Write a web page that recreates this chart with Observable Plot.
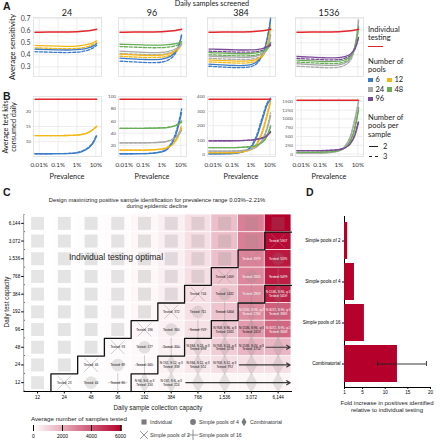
<!DOCTYPE html>
<html>
<head>
<meta charset="utf-8">
<script src="https://cdn.jsdelivr.net/npm/d3@7"></script>
<script src="https://cdn.jsdelivr.net/npm/@observablehq/plot@0.6"></script>
<style>
  html, body { margin: 0; padding: 0; background: #fff; }
  #fig { position: relative; width: 440px; height: 440px; overflow: hidden; background: #fff; }
  #fig svg text { font-weight: normal; }
  .t { position: absolute; white-space: nowrap; }
</style>
</head>
<body>
<div id="fig"></div>
<script>
// ================= DATA =================
// Panels A/B
const prevalence = [0.00006, 0.0001, 0.001, 0.003, 0.01, 0.02, 0.04, 0.07, 0.11];
const prevalenceTicks = [0.0001, 0.001, 0.01, 0.1];
const prevalenceTickLabels = ["0.01%", "0.1%", "1%", "10%"];
const samplesScreened = [24, 96, 384, 1536];
const poolCounts = [6, 12, 24, 48, 96];
const poolsPerSample = [2, 3];
const sensitivityTicks = [0.3, 0.4, 0.5, 0.6, 0.7];

const individualSensitivity = [0.587, 0.588, 0.589, 0.590, 0.592, 0.595, 0.600, 0.606, 0.612];
// [number of pools, pools per sample, values]
const sensitivity24 = [
  [6, 2, [0.447, 0.446, 0.441, 0.440, 0.443, 0.448, 0.458, 0.472, 0.492]],
  [6, 3, [0.426, 0.425, 0.420, 0.419, 0.422, 0.428, 0.440, 0.456, 0.480]],
  [12, 2, [0.478, 0.477, 0.472, 0.471, 0.473, 0.478, 0.488, 0.500, 0.517]],
  [12, 3, [0.458, 0.457, 0.452, 0.451, 0.454, 0.459, 0.470, 0.485, 0.505]]
];
const sensitivity96 = [
  [6, 2, [0.372, 0.370, 0.362, 0.360, 0.364, 0.376, 0.405, 0.460, 0.560]],
  [6, 3, [0.348, 0.346, 0.337, 0.335, 0.340, 0.354, 0.388, 0.450, 0.570]],
  [12, 2, [0.405, 0.403, 0.396, 0.394, 0.397, 0.405, 0.423, 0.450, 0.490]],
  [12, 3, [0.388, 0.386, 0.379, 0.377, 0.381, 0.390, 0.410, 0.442, 0.485]],
  [24, 2, [0.430, 0.428, 0.421, 0.419, 0.421, 0.427, 0.440, 0.460, 0.490]],
  [24, 3, [0.412, 0.410, 0.403, 0.401, 0.404, 0.411, 0.426, 0.450, 0.485]],
  [48, 2, [0.488, 0.487, 0.482, 0.480, 0.481, 0.484, 0.490, 0.498, 0.510]],
  [48, 3, [0.468, 0.467, 0.461, 0.459, 0.460, 0.464, 0.471, 0.482, 0.498]]
];
const sensitivity384 = [
  [6, 2, [0.322, 0.320, 0.312, 0.311, 0.318, 0.340, 0.400, 0.520, 0.690]],
  [6, 3, [0.305, 0.303, 0.295, 0.294, 0.302, 0.326, 0.392, 0.525, 0.705]],
  [12, 2, [0.358, 0.356, 0.349, 0.347, 0.351, 0.362, 0.392, 0.470, 0.620]],
  [12, 3, [0.342, 0.340, 0.333, 0.331, 0.336, 0.349, 0.383, 0.470, 0.640]],
  [24, 2, [0.390, 0.388, 0.381, 0.379, 0.382, 0.390, 0.408, 0.450, 0.560]],
  [24, 3, [0.372, 0.370, 0.363, 0.361, 0.364, 0.373, 0.394, 0.445, 0.570]],
  [48, 2, [0.418, 0.417, 0.411, 0.409, 0.411, 0.416, 0.428, 0.452, 0.505]],
  [48, 3, [0.400, 0.399, 0.393, 0.391, 0.393, 0.399, 0.413, 0.442, 0.500]],
  [96, 2, [0.448, 0.447, 0.442, 0.440, 0.441, 0.444, 0.452, 0.466, 0.490]],
  [96, 3, [0.430, 0.429, 0.424, 0.422, 0.423, 0.427, 0.436, 0.452, 0.480]]
];
const sensitivity1536 = [
  [24, 2, [0.326, 0.324, 0.315, 0.312, 0.317, 0.330, 0.365, 0.470, 0.680]],
  [24, 3, [0.306, 0.304, 0.295, 0.292, 0.298, 0.313, 0.352, 0.468, 0.700]],
  [48, 2, [0.356, 0.354, 0.346, 0.343, 0.347, 0.357, 0.384, 0.465, 0.630]],
  [48, 3, [0.340, 0.338, 0.330, 0.327, 0.331, 0.342, 0.372, 0.458, 0.640]],
  [96, 2, [0.386, 0.384, 0.377, 0.374, 0.377, 0.385, 0.405, 0.452, 0.545]],
  [96, 3, [0.370, 0.368, 0.361, 0.358, 0.361, 0.370, 0.392, 0.445, 0.550]]
];

const tests24 = [
  [6, 2, [6, 6, 6.02, 6.07, 6.3, 6.8, 7.8, 9.4, 11.8]],
  [6, 3, [6, 6, 6.03, 6.1, 6.4, 7.0, 8.1, 9.8, 12.2]],
  [12, 2, [12, 12, 12.01, 12.03, 12.15, 12.4, 13.0, 13.9, 15.0]],
  [12, 3, [12, 12, 12.01, 12.04, 12.2, 12.5, 13.1, 14.0, 15.1]]
];
const tests96 = [
  [6, 2, [6, 6, 6.2, 6.8, 9, 14, 27, 48, 74]],
  [6, 3, [6, 6, 6.3, 7, 10, 16, 30, 53, 80]],
  [12, 2, [12, 12, 12.1, 12.4, 13.5, 16, 22, 33, 48]],
  [12, 3, [12, 12, 12.1, 12.5, 14, 17, 24, 36, 53]],
  [24, 2, [24, 24, 24.1, 24.3, 25, 26.5, 30, 36, 44]],
  [24, 3, [24, 24, 24.1, 24.4, 25.3, 27, 31, 38, 47]],
  [48, 2, [48, 48, 48.05, 48.2, 48.6, 49.3, 51, 54, 58]],
  [48, 3, [48, 48, 48.06, 48.3, 48.8, 49.6, 51.5, 55, 60]]
];
const tests384 = [
  [6, 2, [6, 6, 7.5, 15, 50, 120, 240, 340, 385]],
  [6, 3, [6, 6, 8, 17, 57, 135, 260, 355, 392]],
  [12, 2, [12, 12, 13, 17, 35, 70, 150, 260, 365]],
  [12, 3, [12, 12, 13.3, 18, 39, 78, 165, 280, 380]],
  [24, 2, [24, 24, 24.8, 27, 36, 53, 95, 170, 270]],
  [24, 3, [24, 24, 25, 28, 39, 58, 105, 185, 290]],
  [48, 2, [48, 48, 48.5, 50, 55, 64, 85, 125, 190]],
  [48, 3, [48, 48, 48.6, 50.5, 57, 67, 90, 132, 200]],
  [96, 2, [96, 96, 96.3, 97, 100, 105, 115, 130, 155]],
  [96, 3, [96, 96, 96.4, 97.5, 101, 107, 118, 135, 162]]
];
const tests1536 = [
  [24, 2, [24, 24, 28, 40, 90, 200, 480, 950, 1480]],
  [24, 3, [24, 24, 29, 42, 96, 215, 510, 1010, 1520]],
  [48, 2, [48, 48, 51, 60, 95, 170, 360, 720, 1250]],
  [48, 3, [48, 48, 52, 62, 100, 180, 390, 780, 1330]],
  [96, 2, [96, 96, 98, 104, 125, 170, 290, 530, 900]],
  [96, 3, [96, 96, 99, 106, 130, 180, 310, 570, 960]]
];
const testsTicks24 = [10, 15, 20];
const testsTicks96 = [20, 40, 60, 80, 100];
const testsTicks384 = [0, 100, 200, 300, 400];
const testsTicks1536 = [0, 250, 500, 750, 1000, 1250, 1500];

// Panel C
const collectionCapacity = [12, 24, 48, 96, 192, 384, 768, 1536, 3072, 6144];
const testCapacity = [12, 24, 48, 96, 192, 384, 768, 1536, 3072, 6144];
// rows: test capacity 12 (bottom) ... 6144 (top); columns: collection capacity
const samplesTested = [
  [12, 23, 44, 80, 134, 224, 224, 224, 224, 224],
  [12, 24, 46, 89, 161, 338, 551, 792, 792, 792],
  [12, 24, 48, 93, 177, 350, 698, 1176, 1754, 1754],
  [12, 24, 48, 96, 186, 360, 727, 1345, 2413, 3668],
  [12, 24, 48, 96, 192, 372, 711, 1404, 2764, 3869],
  [12, 24, 48, 96, 192, 384, 744, 1432, 2809, 5409],
  [12, 24, 48, 96, 192, 384, 768, 1469, 2845, 5479],
  [12, 24, 48, 96, 192, 384, 768, 1536, 2979, 5595],
  [12, 24, 48, 96, 192, 384, 768, 1536, 3072, 5907],
  [12, 24, 48, 96, 192, 384, 768, 1536, 3072, 6144]
];
// I individual, P2/P4/P16 simple pools, C combinatorial, A same design (arrow)
const optimalDesign = [
  ["I", "P2", "P4", "P16", "C", "C", "A", "A", "A", "A"],
  ["I", "I", "P2", "P4", "P16", "C", "C", "C", "A", "A"],
  ["I", "I", "I", "P2", "P4", "P16", "C", "C", "C", "A"],
  ["I", "I", "I", "I", "P2", "P4", "P16", "C", "C", "C"],
  ["I", "I", "I", "I", "I", "P2", "P4", "P16", "C", "C"],
  ["I", "I", "I", "I", "I", "I", "P2", "P4", "P16", "C"],
  ["I", "I", "I", "I", "I", "I", "I", "P2", "P4", "P16"],
  ["I", "I", "I", "I", "I", "I", "I", "I", "P2", "P4"],
  ["I", "I", "I", "I", "I", "I", "I", "I", "I", "P2"],
  ["I", "I", "I", "I", "I", "I", "I", "I", "I", "I"]
];
// [test capacity, collection capacity, design]
const combinatorialLabels = [
  [12, 192, "N:96, S:6, q:3"], [12, 384, "N:192, S:6, q:3"],
  [24, 384, "N:192, S:12, q:3"], [24, 768, "N:384, S:12, q:3"], [24, 1536, "N:768, S:12, q:3"],
  [48, 768, "N:384, S:24, q:3"], [48, 1536, "N:768, S:24, q:3"], [48, 3072, "N:1536, S:24, q:3"],
  [96, 1536, "N:768, S:96, q:3"], [96, 3072, "N:1536, S:96, q:3"], [96, 6144, "N:3072, S:96, q:2"],
  [192, 3072, "N:1536, S:96, q:2"], [192, 6144, "N:3072, S:96, q:3"],
  [384, 6144, "N:1536, S:96, q:3"]
];
const heatLegendTicks = [0, 2000, 4000, 6000];

// Panel D
const designNames = ["Simple pools of 2", "Simple pools of 4", "Simple pools of 16", "Combinatorial"];
const foldIncrease = [1.7, 3.2, 5.4, 12.7];
const foldLow = [null, null, null, 8.3];
const foldHigh = [null, null, null, 19.1];
const foldTicks = [1, 5, 10, 15, 20];

// ================= STYLE =================
const poolColors = ["#3b7bc8", "#f5b716", "#a9a9a9", "#69ad57", "#7a4a97"];
const individualColor = "#e3262c";
const heatHigh = "#b5002c";
const AB = "Lato, 'Open Sans', sans-serif";
const CF = "'Liberation Sans', Arial, sans-serif";

const fig = document.getElementById("fig");
function put(node, left, top) {
  node.style.position = "absolute";
  node.style.left = left + "px";
  node.style.top = top + "px";
  fig.appendChild(node);
  return node;
}
function label(html, x, y, o = {}) {
  const d = document.createElement("div");
  d.className = "t";
  d.innerHTML = html;
  const s = d.style;
  s.fontSize = (o.size || 7) + "px";
  s.fontFamily = o.family || AB;
  if (o.weight) s.fontWeight = o.weight;
  s.color = o.color || "#1a1a1a";
  s.lineHeight = o.lh || "1.1";
  s.textAlign = o.align || "center";
  const tx = o.anchor === "start" ? "0" : o.anchor === "end" ? "-100%" : "-50%";
  s.transform = `translate(${tx},-50%)` + (o.rotate ? ` rotate(${o.rotate}deg)` : "");
  s.left = x + "px";
  s.top = y + "px";
  fig.appendChild(d);
  return d;
}
const baseStyle = (family, size) => ({background: "transparent", overflow: "visible", fontFamily: family, fontSize: size + "px", maxWidth: "none"});

function rowsOf(series) {
  return series.flatMap(([pools, q, vals]) => vals.map((v, k) => ({pools, q, prev: prevalence[k], v})));
}

// ================= PANELS A & B =================
const frameLeft = [33, 118, 207, 295];
const frameW = 68;
const sensSeries = [sensitivity24, sensitivity96, sensitivity384, sensitivity1536];
const testSeries = [tests24, tests96, tests384, tests1536];
const testTicks = [testsTicks24, testsTicks96, testsTicks384, testsTicks1536];
const testDomains = [[5.1, 24.9], [1.5, 100.5], [-13, 403], [-70, 1640]];
const colorScale = {type: "ordinal", domain: poolCounts, range: poolColors};

function linesFor(rows, indivRows, curve) {
  return [
    Plot.line(rows.filter(d => d.q === poolsPerSample[1]), {x: "prev", y: "v", z: "pools", stroke: "pools", strokeWidth: 1.3, strokeDasharray: "3,1.7", curve}),
    Plot.line(rows.filter(d => d.q === poolsPerSample[0]), {x: "prev", y: "v", z: "pools", stroke: "pools", strokeWidth: 1.3, curve}),
    Plot.line(indivRows, {x: "prev", y: "v", stroke: individualColor, strokeWidth: 1.5, curve})
  ];
}

samplesScreened.forEach((n, i) => {
  const left = frameLeft[i] - 30;
  const cx = frameLeft[i] + frameW / 2;
  // ---- A ----
  const indivA = individualSensitivity.map((v, k) => ({prev: prevalence[k], v}));
  const marksA = [
    Plot.frame({stroke: "#e4e4e4"}),
    Plot.ruleX(prevalenceTicks, {stroke: "#e8e8e8", strokeWidth: 0.8}),
    Plot.ruleY(sensitivityTicks, {stroke: "#e8e8e8", strokeWidth: 0.8}),
    ...linesFor(rowsOf(sensSeries[i]), indivA, "catmull-rom")
  ];
  if (i === 0) marksA.push(Plot.text(sensitivityTicks, {y: d => d, text: d => d.toFixed(1), frameAnchor: "left", dx: -3, textAnchor: "end", fontSize: 7, fill: "#444"}));
  const a = Plot.plot({
    width: 30 + frameW + 4, height: 78, marginLeft: 30, marginRight: 4, marginTop: 17, marginBottom: 2,
    x: {type: "log", domain: [5e-5, 0.2], axis: null},
    y: {domain: [0.22, 0.71], axis: null},
    color: colorScale,
    style: baseStyle(AB, 7),
    marks: marksA
  });
  put(a, left, 0);
  label(String(n), cx, 12.8, {size: 9});

  // ---- B ----
  const indivB = prevalence.map(p => ({prev: p, v: n}));
  const b = Plot.plot({
    width: 30 + frameW + 4, height: 100, marginLeft: 30, marginRight: 4, marginTop: 12, marginBottom: 28,
    x: {type: "log", domain: [5e-5, 0.2], axis: null},
    y: {domain: testDomains[i], axis: null},
    color: colorScale,
    style: baseStyle(AB, 7),
    marks: [
      Plot.frame({stroke: "#e4e4e4"}),
      Plot.ruleX(prevalenceTicks, {stroke: "#e8e8e8", strokeWidth: 0.8}),
      Plot.ruleY(testTicks[i], {stroke: "#e8e8e8", strokeWidth: 0.8}),
      ...linesFor(rowsOf(testSeries[i]), indivB, "monotone-x"),
      Plot.text(testTicks[i], {y: d => d, text: d => String(d), frameAnchor: "left", dx: -2.5, textAnchor: "end", fontSize: 4.6, fill: "#555"}),
      Plot.text(prevalenceTicks, {x: d => d, text: (d, k) => prevalenceTickLabels[k], frameAnchor: "bottom", dy: 10.5, fontSize: 6.3, fill: "#333"})
    ]
  });
  put(b, left, 84);
  label("Prevalence", cx, 177, {size: 7.3});
});

label("A", 3, 7, {size: 10.5, weight: "bold", family: CF, anchor: "start"});
label("B", 3, 97, {size: 10.5, weight: "bold", family: CF, anchor: "start"});
label("Daily samples screened", 212, 3.6, {size: 7.3});
label("Average sensitivity", 12, 47, {size: 8, rotate: -90});
label("Average test kits<br>consumed daily", 10, 127, {size: 7.3, rotate: -90, lh: "1.05"});

// legend A/B
const LX = 368;
label("Individual<br>testing", LX, 34, {size: 7.5, anchor: "start", align: "left", lh: "1.12"});
(function () {
  const l = document.createElement("div");
  l.style.cssText = `width:15px;height:0;border-top:1.6px solid ${individualColor};`;
  put(l, LX, 46);
})();
label("Number of<br>pools", LX, 66, {size: 7.5, anchor: "start", align: "left", lh: "1.12"});
poolCounts.forEach((p, k) => {
  const col = k % 2, row = Math.floor(k / 2);
  const x = LX + col * 19, y = 80 + row * 9.5;
  const sq = document.createElement("div");
  sq.style.cssText = `width:4.5px;height:4.5px;background:${poolColors[k]};`;
  put(sq, x, y - 2.25);
  label(String(p), x + 7.5, y, {size: 7.5, anchor: "start"});
});
label("Number of<br>pools per<br>sample", LX, 127, {size: 7.5, anchor: "start", align: "left", lh: "1.12"});
poolsPerSample.forEach((q, k) => {
  const y = 147 + k * 10;
  const ln = document.createElement("div");
  ln.style.cssText = `width:9px;height:0;border-top:1.4px ${k === 0 ? "solid" : "dashed"} #222;`;
  put(ln, LX + 1, y - 0.7);
  label(String(q), LX + 15, y, {size: 7.5, anchor: "start"});
});

// ================= PANEL C =================
const cells = [];
const combMap = new Map(combinatorialLabels.map(([r, c, l]) => [r + "-" + c, l]));
testCapacity.forEach((r, j) => collectionCapacity.forEach((c, i) => {
  cells.push({i, j, tested: samplesTested[j][i], design: optimalDesign[j][i], label: combMap.get(r + "-" + c) || null});
}));
function stair(test) {
  const pts = [];
  for (let j = 0; j < optimalDesign.length; j++) {
    const k = optimalDesign[j].findIndex(test);
    if (k < 0) { pts.push({x: collectionCapacity.length - 0.5, y: j - 0.5}); break; }
    pts.push({x: k - 0.5, y: j - 0.5}, {x: k - 0.5, y: j + 0.5});
  }
  return pts;
}
const arrowRows = [];
optimalDesign.forEach((row, j) => { const k = row.indexOf("A"); if (k >= 0) arrowRows.push({j, start: k}); });
const pooledCells = cells.filter(d => d.design !== "I" && d.design !== "A");
const cellText = d => (d.label ? d.label + "\n" : "") + "Tested: " + d.tested;
const markGray = "#8a8a8a";

const cPlot = Plot.plot({
  width: 300, height: 200, marginLeft: 23.7, marginRight: 9, marginTop: 6, marginBottom: 17,
  x: {domain: [-0.5, 9.5], ticks: d3.range(collectionCapacity.length), tickFormat: i => collectionCapacity[i], tickSize: 2.5, tickPadding: 1.5, line: true, label: null},
  y: {domain: [-0.5, 9.5], ticks: d3.range(testCapacity.length), tickFormat: j => testCapacity[j], tickSize: 2.5, tickPadding: 1.5, line: true, label: null},
  color: {type: "linear", domain: [0, 6144], range: ["#ffffff", heatHigh]},
  style: baseStyle(CF, 4.6),
  marks: [
    Plot.rect(cells, {x1: d => d.i - 0.5, x2: d => d.i + 0.5, y1: d => d.j - 0.5, y2: d => d.j + 0.5, fill: "tested", inset: 0.4}),
    Plot.dot(cells.filter(d => d.design === "I"), {x: "i", y: "j", symbol: "square", r: 7.3, fill: markGray, fillOpacity: 0.22}),
    Plot.dot(cells.filter(d => d.design === "P4"), {x: "i", y: "j", symbol: "circle", r: 6.3, fill: markGray, fillOpacity: 0.22}),
    Plot.dot(cells.filter(d => d.design === "C" || d.design === "A"), {x: "i", y: "j", symbol: "diamond", r: 6.3, fill: markGray, fillOpacity: 0.22}),
    Plot.dot(cells.filter(d => d.design === "P2"), {x: "i", y: "j", symbol: "times", r: 6.3, stroke: markGray, strokeOpacity: 0.45, strokeWidth: 0.9}),
    Plot.dot(cells.filter(d => d.design === "P16"), {x: "i", y: "j", symbol: "plus", r: 6.3, stroke: markGray, strokeOpacity: 0.45, strokeWidth: 0.9}),
    Plot.text(pooledCells.filter(d => d.tested <= 2600), {x: "i", y: "j", text: cellText, fontSize: 3.2, fill: "#111", lineHeight: 1.15}),
    Plot.text(pooledCells.filter(d => d.tested > 2600), {x: "i", y: "j", text: cellText, fontSize: 3.2, fill: "#fff", lineHeight: 1.15}),
    Plot.arrow(arrowRows, {x1: d => d.start - 0.45, x2: () => collectionCapacity.length - 0.55, y1: "j", y2: "j", stroke: "#3a3a3a", strokeWidth: 1.2, headLength: 5}),
    Plot.line(stair(d => d !== "I"), {x: "x", y: "y", stroke: "#111", strokeWidth: 1.3}),
    Plot.line(stair(d => d === "C" || d === "A"), {x: "x", y: "y", stroke: "#111", strokeWidth: 1.3})
  ]
});
put(cPlot, 0, 208);

label("C", 3, 193, {size: 10.5, weight: "bold", family: CF, anchor: "start"});
label("Design maximizing positive sample identification for prevalence range 0.03%–2.21%<br>during epidemic decline", 157, 203, {size: 5.8, family: CF, lh: "1.08"});
label("Individual testing optimal", 116, 258, {size: 8.6, family: CF, color: "#222"});
label("Daily test capacity", 7, 302, {size: 6.3, family: CF, rotate: -90});
label("Daily sample collection capacity", 158, 408, {size: 6.3, family: CF});

// heat legend
label("Average number of samples tested", 31, 419, {size: 6.2, family: CF, anchor: "start"});
const heatLegend = Plot.legend({
  color: {type: "linear", domain: [0, 6144], range: ["#ffffff", heatHigh]},
  label: null, width: 135, height: 31, marginLeft: 33, marginRight: 13, marginTop: 15, marginBottom: 10,
  ticks: heatLegendTicks, tickSize: 0, tickFormat: d => String(d),
  style: baseStyle(CF, 5)
});
put(heatLegend, 0, 410);

// symbol legend
(function () {
  const svg = d3.create("svg").attr("width", 170).attr("height", 30).style("overflow", "visible");
  const g = "#7a7a7a";
  const items = [
    {x: 8, y: 8, t: "Individual", s: "square"},
    {x: 8, y: 21, t: "Simple pools of 2", s: "times"},
    {x: 57, y: 8, t: "Simple pools of 4", s: "circle"},
    {x: 57, y: 21, t: "Simple pools of 16", s: "plus"},
    {x: 108, y: 8, t: "Combinatorial", s: "diamond"}
  ];
  const fills = {square: d3.symbolSquare, circle: d3.symbolCircle, diamond: d3.symbolDiamond};
  items.forEach(it => {
    if (fills[it.s]) {
      svg.append("path").attr("d", d3.symbol(fills[it.s], it.s === "diamond" ? 22 : 26)()).attr("transform", `translate(${it.x},${it.y})`).attr("fill", g);
    } else {
      const p = it.s === "times" ? d3.symbolTimes : d3.symbolPlus;
      svg.append("path").attr("d", d3.symbol(p, 40)()).attr("transform", `translate(${it.x},${it.y})`).attr("fill", "none").attr("stroke", g).attr("stroke-width", 0.8);
    }
    svg.append("text").attr("x", it.x + 6).attr("y", it.y).attr("dy", "0.35em").attr("font-size", 5.2).attr("font-family", CF).attr("fill", "#333").text(it.t);
  });
  put(svg.node(), 136, 414);
})();

// ================= PANEL D =================
const foldRows = designNames.map((design, k) => ({design, fold: foldIncrease[k], lo: foldLow[k], hi: foldHigh[k]}));
const errRows = foldRows.filter(d => d.lo != null);
const dPlot = Plot.plot({
  width: 140, height: 232, marginLeft: 44, marginRight: 10, marginTop: 8, marginBottom: 53,
  x: {domain: [1, 20], ticks: foldTicks, tickSize: 2, tickPadding: 1.5, line: true, label: null},
  y: {type: "band", domain: designNames, padding: 0.1, tickSize: 2, tickPadding: 2, line: true, label: null},
  style: baseStyle(CF, 4.6),
  marks: [
    Plot.barX(foldRows, {y: "design", x1: 1, x2: "fold", fill: heatHigh}),
    Plot.ruleY(errRows, {y: "design", x1: "lo", x2: "hi", stroke: "#222", strokeWidth: 0.9}),
    Plot.tickX(errRows, {x: "lo", y: "design", stroke: "#222", strokeWidth: 0.9, insetTop: 16, insetBottom: 16}),
    Plot.tickX(errRows, {x: "hi", y: "design", stroke: "#222", strokeWidth: 0.9, insetTop: 16, insetBottom: 16})
  ]
});
put(dPlot, 300, 208);
label("D", 306, 193, {size: 10.5, weight: "bold", family: CF, anchor: "start"});
label("Fold increase in positives identified<br>relative to individual testing", 387, 407, {size: 6, family: CF, lh: "1.15"});
</script>
</body>
</html>
